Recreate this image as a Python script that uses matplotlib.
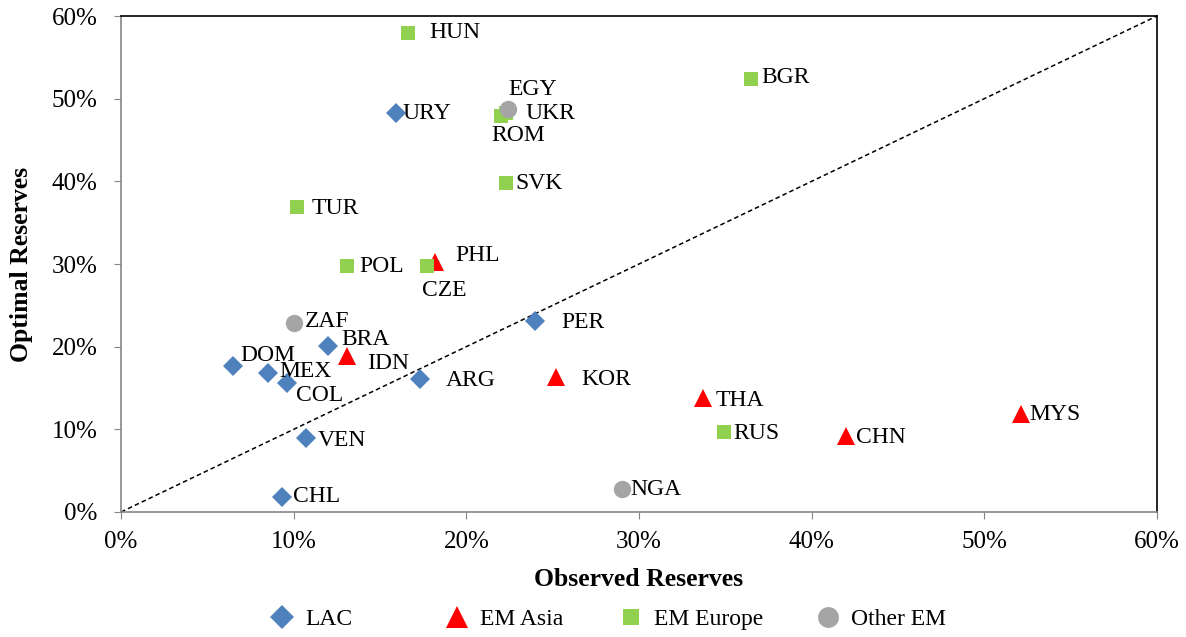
import matplotlib
matplotlib.use("Agg")
import matplotlib.pyplot as plt
from matplotlib.ticker import FuncFormatter

plt.rcParams['font.family'] = ['Liberation Serif', 'DejaVu Serif']

# observed / optimal reserves (% of GDP)
lac_names = ['URY', 'PER', 'BRA', 'DOM', 'MEX', 'COL', 'ARG', 'VEN', 'CHL']
lac_x = [15.9, 24.0, 12.0, 6.5, 8.5, 9.6, 17.3, 10.7, 9.3]
lac_y = [48.3, 23.1, 20.1, 17.7, 16.8, 15.6, 16.1, 8.9, 1.8]

asia_names = ['PHL', 'IDN', 'KOR', 'THA', 'CHN', 'MYS']
asia_x = [18.2, 13.1, 25.2, 33.7, 42.0, 52.1]
asia_y = [30.2, 18.9, 16.3, 13.8, 9.2, 11.9]

eur_names = ['HUN', 'BGR', 'UKR', 'ROM', 'SVK', 'TUR', 'POL', 'CZE', 'RUS']
eur_x = [16.6, 36.5, 22.3, 22.0, 22.3, 10.2, 13.1, 17.7, 34.9]
eur_y = [58.0, 52.4, 48.3, 47.9, 39.8, 36.9, 29.8, 29.8, 9.7]

oth_names = ['EGY', 'ZAF', 'NGA']
oth_x = [22.4, 10.0, 29.0]
oth_y = [48.7, 22.9, 2.8]

# label offsets in pixels (dx, dy) from the marker
offsets = {
    'HUN': (22, 0), 'BGR': (10, 1), 'EGY': (1, 20), 'UKR': (19, -1),
    'ROM': (-10, -19), 'URY': (7, -1), 'SVK': (9, -1), 'TUR': (14, -2),
    'POL': (12, -1), 'CZE': (-5, -25), 'PHL': (20, 7), 'ZAF': (11, 1),
    'BRA': (13, 6), 'PER': (26, -1), 'DOM': (7, 10), 'IDN': (20, -8),
    'MEX': (12, 2), 'COL': (9, -12), 'ARG': (26, -2), 'KOR': (25, -2),
    'THA': (13, -3), 'MYS': (9, -1), 'RUS': (10, -2), 'CHN': (10, -2),
    'VEN': (12, -2), 'NGA': (9, -1), 'CHL': (11, 1),
}

fig = plt.figure(figsize=(11.86, 6.37), dpi=100)
ax = fig.add_axes([121 / 1186, 1 - 512 / 637, (1157 - 121) / 1186, (512 - 16) / 637])

ax.plot([0, 60], [0, 60], color='black', linestyle=(0, (3, 2)), linewidth=1.1, zorder=1)

groups = [
    (lac_names, lac_x, lac_y, 'D', 10, '#4F81BD', 'LAC'),
    (asia_names, asia_x, asia_y, '^', 13.5, '#FF0000', 'EM Asia'),
    (eur_names, eur_x, eur_y, 's', 9.5, '#92D050', 'EM Europe'),
    (oth_names, oth_x, oth_y, 'o', 12.5, '#A5A5A5', 'Other EM'),
]

handles = []
for names, xs, ys, mk, ms, col, lab in groups:
    h, = ax.plot(xs, ys, linestyle='none', marker=mk, markersize=ms,
                 color=col, markeredgewidth=0, label=lab, zorder=3)
    handles.append(h)
    for n, x, y in zip(names, xs, ys):
        dx, dy = offsets[n]
        ax.annotate(n, (x, y), xytext=(dx * 0.72, dy * 0.72), textcoords='offset points',
                    ha='left', va='center', fontsize=17, zorder=4)

ax.set_xlim(0, 60)
ax.set_ylim(0, 60)
ticks = [0, 10, 20, 30, 40, 50, 60]
ax.set_xticks(ticks)
ax.set_yticks(ticks)
pct = FuncFormatter(lambda v, p: '%d%%' % v)
ax.xaxis.set_major_formatter(pct)
ax.yaxis.set_major_formatter(pct)
ax.tick_params(direction='out', length=5, color='#868686', labelsize=18)
ax.tick_params(axis='y', pad=12)
ax.tick_params(axis='x', pad=9)

for s in ['top', 'right']:
    ax.spines[s].set_color('black')
for s in ['left', 'bottom']:
    ax.spines[s].set_color('#868686')
for s in ax.spines.values():
    s.set_linewidth(1.2)

ax.set_xlabel('Observed Reserves', fontsize=18.5, fontweight='bold')
ax.set_ylabel('Optimal Reserves', fontsize=18.5, fontweight='bold')
ax.xaxis.set_label_coords(0.5, (512 - 580) / 496)
ax.yaxis.set_label_coords((22 - 121) / 1036, 0.5)
ax.xaxis.label.set_va('center')
ax.yaxis.label.set_va('center')

# legend entries placed one by one, like the original's fixed slots
leg_x = [282, 457, 631, 828]
for h, mx in zip(handles, leg_x):
    fig.legend(handles=[h], loc='center left',
               bbox_to_anchor=((mx - 11.8) / 1186, 1 - 619 / 637),
               frameon=False, fontsize=17, handlelength=1.0, handletextpad=0.47,
               borderpad=0, borderaxespad=0, markerscale=1.2)

fig.savefig('out.png', dpi=100)
